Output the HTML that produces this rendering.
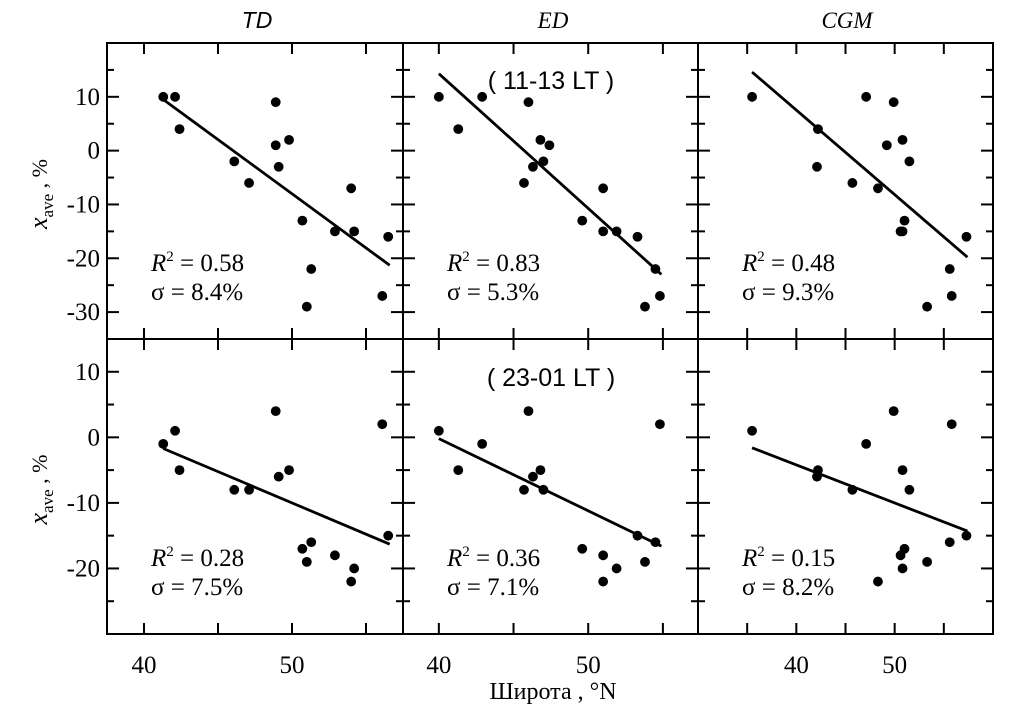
<!DOCTYPE html>
<html><head><meta charset="utf-8">
<style>
html,body{margin:0;padding:0;background:#fff;}
svg{display:block;font-family:"Liberation Serif",serif;}
</style></head>
<body>
<svg id="chart" width="1032" height="715" viewBox="0 0 1032 715" xmlns="http://www.w3.org/2000/svg">
<text x="257" y="28" font-size="23" font-style="italic" font-family="Liberation Sans, sans-serif" text-anchor="middle">TD</text>
<text x="553" y="28" font-size="23" font-style="italic" font-family="Liberation Serif, serif" text-anchor="middle">ED</text>
<text x="847" y="28" font-size="23" font-style="italic" font-family="Liberation Serif, serif" text-anchor="middle">CGM</text>
<text x="553" y="699" font-size="24" text-anchor="middle">Широта ,  °N</text>
<g id="plots"></g>
</svg>
<script>
// Latitudes and values per panel
const latTD = [41.3,42.1,42.4,46.1,47.1,48.9,48.9,49.1,49.8,50.7,51.3,51.0,52.9,54.0,54.2,56.1,56.5];
const valTD_day = [10,10,4,-2,-6,9,1,-3,2,-13,-22,-29,-15,-7,-15,-27,-16];
const latTD_n = [41.3,42.1,42.4,46.1,47.1,48.9,49.1,49.8,50.7,51.3,51.0,52.9,54.0,54.2,56.1,56.5];
const valTD_night = [-1,1,-5,-8,-8,4,-6,-5,-17,-16,-19,-18,-22,-20,2,-15];
const latED_d = [40.0,41.3,42.9,46.0,45.7,46.3,46.8,47.0,47.4,49.6,51.0,51.0,51.9,53.3,54.5,53.8,54.8];
const valED_day = [10,4,10,9,-6,-3,2,-2,1,-13,-7,-15,-15,-16,-22,-29,-27];
const latED_n = [40.0,41.3,42.9,46.0,45.7,46.3,46.8,47.0,49.6,51.0,51.0,51.9,53.3,53.8,54.5,54.8];
const valED_night = [1,-5,-1,4,-8,-6,-5,-8,-17,-18,-22,-20,-15,-19,-16,2];
const latCGM_d = [35.5,42.2,42.1,45.7,47.1,48.3,49.2,49.9,50.8,51.5,51.0,50.6,50.8,57.3,55.6,55.8,53.3];
const valCGM_day = [10,4,-3,-6,10,-7,1,9,2,-2,-13,-15,-15,-16,-22,-27,-29];
const latCGM_n = [35.5,42.2,42.1,45.7,47.1,48.3,49.9,50.8,51.5,50.6,51.0,50.8,53.3,55.6,55.8,57.3];
const valCGM_night = [1,-5,-6,-8,-1,-22,4,-5,-8,-18,-17,-20,-19,-16,2,-15];
// Fit lines [x1,y1,x2,y2]
const fitTD_day = [41.3,9.5,56.6,-21.3];
const fitTD_night = [41.3,-1.7,56.6,-16.3];
const fitED_day = [40.0,14.3,54.9,-23.0];
const fitED_night = [40.0,-0.2,54.9,-16.6];
const fitCGM_day = [35.5,14.6,57.4,-19.8];
const fitCGM_night = [35.5,-1.6,57.4,-14.3];
const statsR2 = ["0.58","0.83","0.48","0.28","0.36","0.15"];
const statsSigma = ["8.4","5.3","9.3","7.5","7.1","8.2"];
const yTicksTop = [10,0,-10,-20,-30];
const yTicksBot = [10,0,-10,-20];
const xTickLabels = [40,50];

const NS="http://www.w3.org/2000/svg";
const root=document.getElementById('plots');
function mk(tag,attrs,parent){const e=document.createElementNS(NS,tag);for(const k in attrs)e.setAttribute(k,attrs[k]);(parent||root).appendChild(e);return e;}

const cols=[{x0:107,x1:403,xmin:37.5,xmax:57.5},{x0:403,x1:698,xmin:37.6,xmax:57.35},{x0:698,x1:993,xmin:30,xmax:60}];
const rows=[{y0:43,y1:339,ymin:-35,ymax:20},{y0:339,y1:634,ymin:-30,ymax:15}];
const panels=[
 [latTD,valTD_day,fitTD_day,0,0,'td-day'],[latED_d,valED_day,fitED_day,1,0,'ed-day'],[latCGM_d,valCGM_day,fitCGM_day,2,0,'cgm-day'],
 [latTD_n,valTD_night,fitTD_night,0,1,'td-night'],[latED_n,valED_night,fitED_night,1,1,'ed-night'],[latCGM_n,valCGM_night,fitCGM_night,2,1,'cgm-night']];

panels.forEach((p,i)=>{
 const [lats,vals,fit,ci,ri,name]=p;const c=cols[ci],r=rows[ri];
 const sx=v=>c.x0+(v-c.xmin)/(c.xmax-c.xmin)*(c.x1-c.x0);
 const sy=v=>r.y1-(v-r.ymin)/(r.ymax-r.ymin)*(r.y1-r.y0);
 const g=mk('g',{});
 
 
 for(let v=Math.ceil(r.ymin/5)*5; v<=r.ymax; v+=5){
  if(v===r.ymin||v===r.ymax) continue;
  const L=(v%10===0)?12:7;
  mk('line',{x1:c.x0,x2:c.x0+L,y1:sy(v),y2:sy(v),stroke:'#000','stroke-width':2},g);
  mk('line',{x1:c.x1,x2:c.x1-L,y1:sy(v),y2:sy(v),stroke:'#000','stroke-width':2},g);
 }
 for(let v=Math.ceil(c.xmin/5)*5; v<c.xmax; v+=5){
  mk('line',{x1:sx(v),x2:sx(v),y1:r.y1,y2:r.y1-11,stroke:'#000','stroke-width':2},g);
  mk('line',{x1:sx(v),x2:sx(v),y1:r.y0,y2:r.y0+11,stroke:'#000','stroke-width':2},g);
 }
 mk('rect',{x:c.x0,y:r.y0,width:c.x1-c.x0,height:r.y1-r.y0,fill:'none',stroke:'#000','stroke-width':2},g);
 const ln=mk('line',{x1:sx(fit[0]),y1:sy(fit[1]),x2:sx(fit[2]),y2:sy(fit[3]),stroke:'#000','stroke-width':2.8},g);
 
 
 lats.forEach((la,k)=>{
  const d=mk('circle',{cx:sx(la),cy:sy(vals[k]),r:4.9,fill:'#000'},g);
  
  
 });
 const tx=c.x0+44, ty=r.y0+(ri===0?228:227);
 const t1=mk('text',{x:tx,y:ty,'font-size':25},g);
 t1.innerHTML='<tspan font-style="italic">R</tspan><tspan font-size="15" dy="-10">2</tspan><tspan dy="10"> = '+statsR2[i]+'</tspan>';
 
 
 const t2=mk('text',{x:tx,y:ty+29,'font-size':25},g);
 t2.textContent='σ = '+statsSigma[i]+'%';
 
 
 if(ci===0){
  (ri===0?yTicksTop:yTicksBot).forEach(v=>{
   const t=mk('text',{x:100,y:sy(v)+8,'font-size':25,'text-anchor':'end'},g);
   t.textContent=v;
   
   
  });
  const yl=mk('text',{transform:'translate(47,'+((r.y0+r.y1)/2+3)+') rotate(-90)','font-size':26,'text-anchor':'middle'},g);
  yl.innerHTML='<tspan font-style="italic">x</tspan><tspan font-size="17" dy="6">ave</tspan><tspan dy="-6" font-size="22">   ,   %</tspan>';
  
  
 }
 if(ri===1){
  xTickLabels.forEach(v=>{
   const t=mk('text',{x:sx(v),y:673,'font-size':25,'text-anchor':'middle'},g);
   t.textContent=v;
   
   
  });
 }
 if(ci===1){
  const t=mk('text',{x:551,y:ri===0?89:386,'font-size':25,'text-anchor':'middle','font-family':'Liberation Sans, sans-serif'},g);
  t.textContent=ri===0?'( 11-13 LT )':'( 23-01 LT )';
  
  
 }
});
</script>
</body></html>
